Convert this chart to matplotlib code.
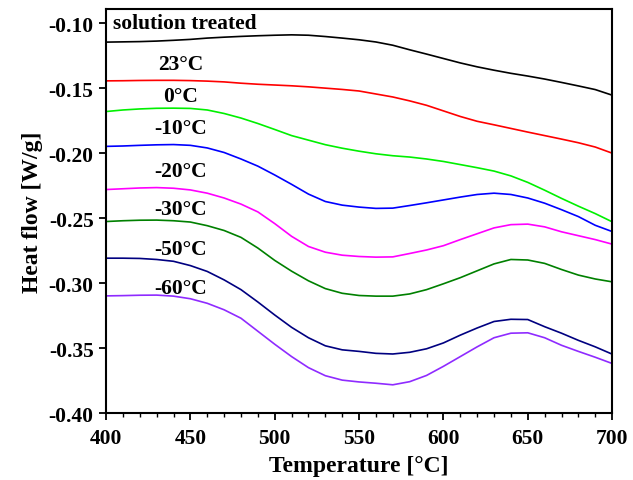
import matplotlib
matplotlib.use("Agg")
import matplotlib.pyplot as plt
from matplotlib.ticker import MultipleLocator

plt.rcParams['font.family'] = ['Liberation Serif', 'DejaVu Serif']
plt.rcParams['font.weight'] = 'bold'

# temperatura [°C], cada 10 grados
temp = list(range(400, 701, 10))

# flujo de calor [W/g]
st  = [-0.1146, -0.1144, -0.1142, -0.1138, -0.1132, -0.1125, -0.1115, -0.1108, -0.1102, -0.1097,
       -0.1093, -0.1090, -0.1093, -0.1103, -0.1115, -0.1128, -0.1145, -0.1170, -0.1205, -0.1238,
       -0.1272, -0.1306, -0.1336, -0.1362, -0.1386, -0.1407, -0.1430, -0.1456, -0.1483, -0.1511, -0.1554]
t23 = [-0.1444, -0.1443, -0.1441, -0.1440, -0.1440, -0.1442, -0.1446, -0.1452, -0.1462, -0.1470,
       -0.1476, -0.1482, -0.1490, -0.1500, -0.1510, -0.1522, -0.1545, -0.1568, -0.1598, -0.1632,
       -0.1675, -0.1718, -0.1755, -0.1782, -0.1810, -0.1838, -0.1865, -0.1892, -0.1920, -0.1953, -0.2000]
t0  = [-0.1680, -0.1668, -0.1660, -0.1655, -0.1654, -0.1656, -0.1668, -0.1695, -0.1730, -0.1772,
       -0.1818, -0.1865, -0.1900, -0.1935, -0.1962, -0.1985, -0.2005, -0.2020, -0.2030, -0.2045,
       -0.2064, -0.2088, -0.2112, -0.2138, -0.2175, -0.2225, -0.2285, -0.2348, -0.2408, -0.2465, -0.2528]
t10 = [-0.1948, -0.1945, -0.1940, -0.1936, -0.1934, -0.1940, -0.1960, -0.1995, -0.2045, -0.2100,
       -0.2168, -0.2240, -0.2315, -0.2372, -0.2400, -0.2415, -0.2425, -0.2423, -0.2403, -0.2382,
       -0.2360, -0.2338, -0.2318, -0.2308, -0.2318, -0.2345, -0.2385, -0.2435, -0.2488, -0.2555, -0.2603]
t20 = [-0.2280, -0.2274, -0.2268, -0.2265, -0.2270, -0.2283, -0.2308, -0.2345, -0.2392, -0.2452,
       -0.2542, -0.2640, -0.2718, -0.2762, -0.2785, -0.2795, -0.2800, -0.2798, -0.2772, -0.2745,
       -0.2712, -0.2665, -0.2620, -0.2575, -0.2550, -0.2546, -0.2567, -0.2605, -0.2635, -0.2665, -0.2700]
t30 = [-0.2526, -0.2520, -0.2516, -0.2515, -0.2520, -0.2530, -0.2558, -0.2595, -0.2648, -0.2730,
       -0.2825, -0.2908, -0.2982, -0.3042, -0.3078, -0.3095, -0.3100, -0.3100, -0.3083, -0.3050,
       -0.3005, -0.2958, -0.2905, -0.2852, -0.2818, -0.2822, -0.2848, -0.2895, -0.2938, -0.2968, -0.2990]
t50 = [-0.2808, -0.2808, -0.2810, -0.2818, -0.2832, -0.2865, -0.2910, -0.2975, -0.3050, -0.3145,
       -0.3245, -0.3340, -0.3420, -0.3482, -0.3513, -0.3525, -0.3540, -0.3545, -0.3532, -0.3505,
       -0.3460, -0.3400, -0.3345, -0.3295, -0.3278, -0.3280, -0.3335, -0.3385, -0.3440, -0.3490, -0.3546]
t60 = [-0.3098, -0.3096, -0.3093, -0.3092, -0.3100, -0.3120, -0.3155, -0.3205, -0.3270, -0.3370,
       -0.3470, -0.3565, -0.3650, -0.3712, -0.3746, -0.3760, -0.3770, -0.3782, -0.3758, -0.3710,
       -0.3640, -0.3565, -0.3490, -0.3420, -0.3385, -0.3382, -0.3420, -0.3478, -0.3525, -0.3570, -0.3618]

series = [st, t23, t0, t10, t20, t30, t50, t60]
colores = ['black', '#ff0000', '#00f000', '#0000ff', '#ff00ff', '#008000', '#000080', '#8f2bff']
etiquetas = ['solution treated', '23°C', '0°C', '-10°C', '-20°C', '-30°C', '-50°C', '-60°C']
# posicion de las etiquetas (x, y)
etq_x = [404, 444, 444, 444, 444, 444, 444, 444]
etq_y = [-0.1000, -0.1315, -0.1562, -0.1808, -0.2138, -0.2431, -0.2738, -0.3038]

fig = plt.figure(figsize=(6.33, 4.81), dpi=100)
ax = fig.add_axes([0.1675, 0.139, 0.7995, 0.840])

for datos, col in zip(series, colores):
    ax.plot(temp, datos, color=col, lw=1.2)

for i in range(len(etiquetas)):
    ha = 'left' if i == 0 else 'center'
    ax.text(etq_x[i], etq_y[i], etiquetas[i], ha=ha, va='center',
            fontsize=15.5, fontweight='bold')

ax.set_xlim(400, 700)
ax.set_ylim(-0.40, -0.0892)
ax.xaxis.set_major_locator(MultipleLocator(50))
ax.xaxis.set_minor_locator(MultipleLocator(10))
ax.set_yticks([-0.40, -0.35, -0.30, -0.25, -0.20, -0.15, -0.10])
ax.set_yticklabels(['-0.40', '-0.35', '-0.30', '-0.25', '-0.20', '-0.15', '-0.10'])
ax.tick_params(which='major', direction='out', length=5, width=1.3, labelsize=15.5, pad=4)
ax.tick_params(axis='x', which='major', pad=6)
ax.tick_params(which='minor', direction='out', length=3, width=1.0)
for lab in ax.get_xticklabels() + ax.get_yticklabels():
    lab.set_fontweight('bold')
for s in ax.spines.values():
    s.set_linewidth(1.5)

ax.set_xlabel('Temperature [°C]', fontsize=17, fontweight='bold', labelpad=5)
ax.set_ylabel('Heat flow [W/g]', fontsize=17, fontweight='bold', labelpad=4)

plt.savefig('out.png', dpi=100)
